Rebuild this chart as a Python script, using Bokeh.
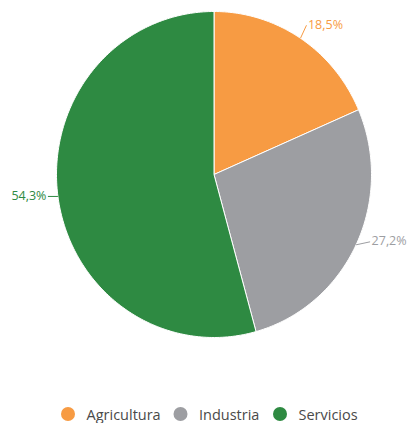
import math
from bokeh.plotting import figure
from bokeh.models import Range1d
from bokeh.core.properties import value
from bokeh.embed import file_html
from bokeh.resources import INLINE

categories = ["Agricultura", "Industria", "Servicios"]
shares = [18.5, 27.2, 54.3]
labels = ["18,5%", "27,2%", "54,3%"]
colors = ["#F79B43", "#9D9EA2", "#2E8A42"]

W, H = 409, 423
# pixel geometry of the pie (screen px per data unit differs slightly per axis)
CX, CY = 213.5, 174.0
SX, SY = 157.5, 163.0
p = figure(width=W, height=H, output_backend="svg", toolbar_location=None,
           x_range=Range1d(-CX / SX, (W - CX) / SX),
           y_range=Range1d(-(H - CY) / SY, CY / SY), min_border=0)
p.axis.visible = False
p.grid.visible = False
p.outline_line_color = None
p.background_fill_color = "white"

total = sum(shares)
xs_all, ys_all, mids = [], [], []
acc = 0.0
for s in shares:
    a0 = math.pi / 2 - 2 * math.pi * acc / total
    acc += s
    a1 = math.pi / 2 - 2 * math.pi * acc / total
    n = max(8, int(abs(a1 - a0) * 60))
    xs = [0.0] + [math.cos(a0 + (a1 - a0) * k / n) for k in range(n + 1)]
    ys = [0.0] + [math.sin(a0 + (a1 - a0) * k / n) for k in range(n + 1)]
    xs_all.append(xs)
    ys_all.append(ys)
    mids.append((a0 + a1) / 2)

p.patches(xs_all, ys_all, fill_color=colors, line_color="white", line_width=1)

# connector ends, in screen px relative to the slice edge point
conn = [(6, -13), (14, -3), (-10, 0)]
for lab, mid, col, (dxp, dyp) in zip(labels, mids, colors, conn):
    ex, ey = math.cos(mid), math.sin(mid)
    ox, oy = ex + dxp / SX, ey - dyp / SY
    right = dxp >= 0
    p.line([ex, ox], [ey, oy], line_color=col, line_width=1)
    p.text(x=[ox + (1.5 if right else -1.5) / SX], y=[oy + 1 / SY], text=[lab],
           text_color=col, text_font=value("Open Sans"), text_font_size="12.5px",
           text_align="left" if right else "right", text_baseline="middle")

# legend (screen px converted to data units)
def dx(px):
    return (px - CX) / SX

def dy(py):
    return (CY - py) / SY

leg_y = 413.5
circle_x = [67.5, 180, 279.5]
for name, col, lx in zip(categories, colors, circle_x):
    p.scatter(x=[dx(lx)], y=[dy(leg_y)], size=14, fill_color=col, line_color=None)
    p.text(x=[dx(lx + 18.5)], y=[dy(leg_y)], text=[name], text_color="#4a4a4a",
           text_font=value("Open Sans"), text_font_size="14.5px",
           text_align="left", text_baseline="middle")

open("out.html", "w").write(file_html(p, INLINE))
